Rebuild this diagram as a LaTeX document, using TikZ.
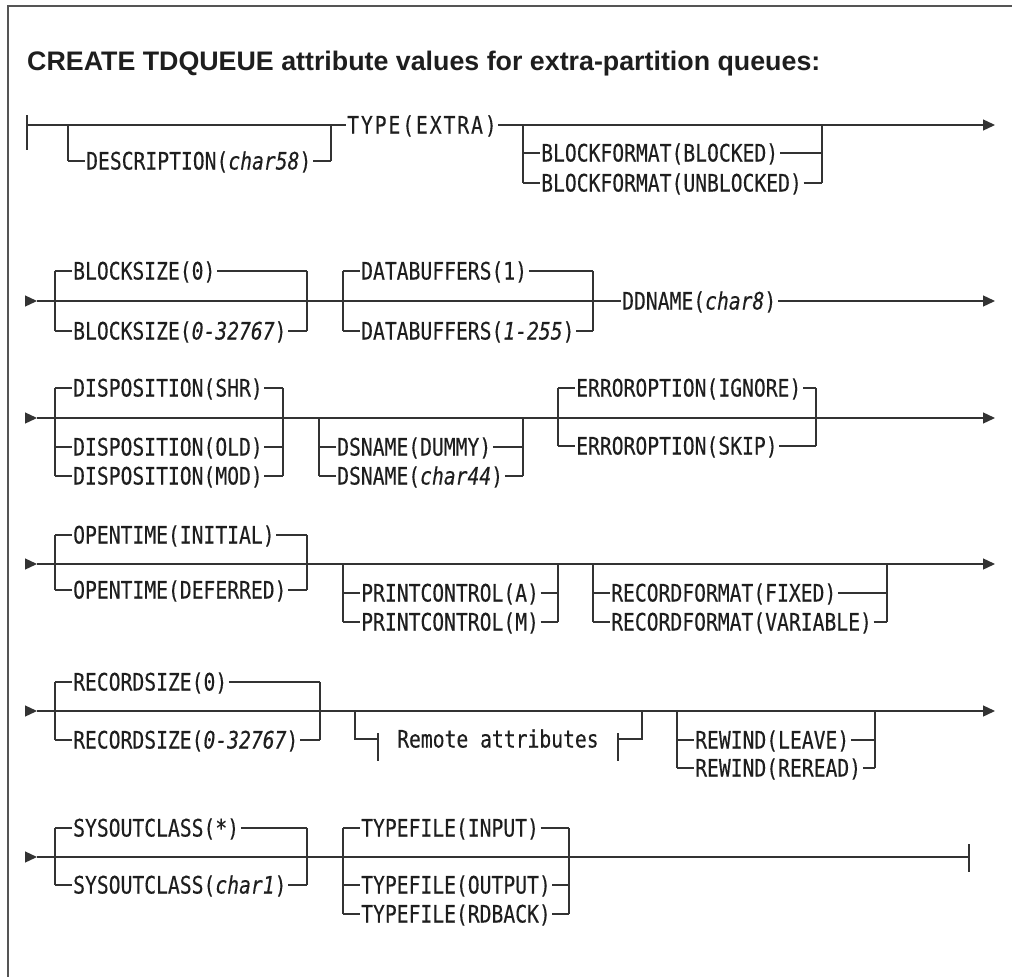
\documentclass[tikz,border=0pt]{standalone}
\usepackage{fontspec}
\newfontfamily\monof{DejaVu Sans Mono}[FakeStretch=0.82,FakeBold=0.3,ItalicFont={DejaVu Sans Mono Oblique}]
\newfontfamily\titlef{Liberation Sans}
\usetikzlibrary{arrows.meta,calc}
\definecolor{linec}{HTML}{333333}
\definecolor{txtc}{HTML}{1E1E1E}
\definecolor{framec}{HTML}{555555}
\newcommand\rrit[5]{%
  \coordinate (#1l) at (#2,#3);
  \coordinate (#1r) at (#4,#3);
  \node[lbl] (#1) at (#2+18,#3) {#5};
  \draw[rr,shorten >=1pt] (#1l) -- (#1l -| #1.west);
  \draw[rr,shorten <=1.5pt] (#1r -| #1.east) -- (#1r);
}
\newcommand\rrstart[2]{%
  \coordinate (#1a) at (25,#2);
  \coordinate (#1s) at (37,#2);
  \draw[rr,-{Triangle[length=12pt,width=11pt]}] (#1a) -- (#1s);
}
\begin{document}
\begin{tikzpicture}[x=1pt,y=-1pt,
  rr/.style={line width=1.3pt,draw=linec},
  tip/.style={-{Triangle[length=12pt,width=11pt]}},
  lbl/.style={anchor=base west,inner sep=0pt,yshift=-8.5pt,font=\monof\fontsize{24}{26}\selectfont,text=txtc},
  ttl/.style={anchor=base west,inner sep=0pt,font=\titlef\bfseries\fontsize{26.8}{30}\selectfont,text=txtc}]
\useasboundingbox (0,0) rectangle (1012,977);
% frame
\coordinate (fr1) at (8,977); \coordinate (fr2) at (8,6); \coordinate (fr3) at (1012,6);
\draw[framec,line width=1.5pt] (fr1) -- (fr2) -- (fr3);
\node[ttl] (title) at (27,70) {CREATE TDQUEUE attribute values for extra-partition queues:};

% ---------- row 1 ----------
\coordinate (r1s) at (27,125); \coordinate (r1e) at (995,125);
\coordinate (r1b1) at (27,115); \coordinate (r1b2) at (27,150);
\draw[rr] (r1b1) -- (r1b2);
\node[lbl] (type) at (347,125) {\addfontfeature{LetterSpace=8}TYPE(EXTRA)};
\draw[rr,shorten >=1pt] (r1s) -- (r1s -| type.west);
\draw[rr,tip,shorten <=1.5pt] (type.east |- r1e) -- (r1e);
\rrit{desc}{68}{161}{331}{DESCRIPTION(\textit{char58})}
\draw[rr] (descl |- r1s) -- (descl);
\draw[rr] (descr |- r1s) -- (descr);
\rrit{bfa}{523}{153}{822}{BLOCKFORMAT(BLOCKED)}
\rrit{bfb}{523}{183}{822}{BLOCKFORMAT(UNBLOCKED)}
\draw[rr] (bfbl |- r1s) -- (bfbl);
\draw[rr] (bfbr |- r1s) -- (bfbr);

% ---------- row 2 ----------
\rrstart{r2}{301}
\coordinate (r2e) at (995,301);
\node[lbl] (dd) at (622,301) {DDNAME(\textit{char8})};
\draw[rr,shorten >=1pt] (r2s) -- (r2s -| dd.west);
\draw[rr,tip,shorten <=1.5pt] (dd.east |- r2e) -- (r2e);
\rrit{bsa}{55}{271}{307}{BLOCKSIZE(0)}
\rrit{bsb}{55}{331}{307}{BLOCKSIZE(\textit{0-32767})}
\draw[rr] (bsal) -- (bsbl); \draw[rr] (bsar) -- (bsbr);
\rrit{dba}{343}{271}{593}{DATABUFFERS(1)}
\rrit{dbb}{343}{331}{593}{DATABUFFERS(\textit{1-255})}
\draw[rr] (dbal) -- (dbbl); \draw[rr] (dbar) -- (dbbr);

% ---------- row 3 ----------
\rrstart{r3}{418}
\coordinate (r3e) at (995,418);
\draw[rr,tip] (r3s) -- (r3e);
\rrit{dsa}{55}{388}{283}{DISPOSITION(SHR)}
\rrit{dsb}{55}{447}{283}{DISPOSITION(OLD)}
\rrit{dsc}{55}{476}{283}{DISPOSITION(MOD)}
\draw[rr] (dsal) -- (dscl); \draw[rr] (dsar) -- (dscr);
\rrit{dna}{319}{447}{523}{DSNAME(DUMMY)}
\rrit{dnb}{319}{476}{523}{DSNAME(\textit{char44})}
\draw[rr] (dnbl |- r3s) -- (dnbl); \draw[rr] (dnbr |- r3s) -- (dnbr);
\rrit{eoa}{558}{388}{816}{ERROROPTION(IGNORE)}
\rrit{eob}{558}{446}{816}{ERROROPTION(SKIP)}
\draw[rr] (eoal) -- (eobl); \draw[rr] (eoar) -- (eobr);

% ---------- row 4 ----------
\rrstart{r4}{564}
\coordinate (r4e) at (995,564);
\draw[rr,tip] (r4s) -- (r4e);
\rrit{ota}{55}{535}{307}{OPENTIME(INITIAL)}
\rrit{otb}{55}{590}{307}{OPENTIME(DEFERRED)}
\draw[rr] (otal) -- (otbl); \draw[rr] (otar) -- (otbr);
\rrit{pca}{343}{593}{558}{PRINTCONTROL(A)}
\rrit{pcb}{343}{622}{558}{PRINTCONTROL(M)}
\draw[rr] (pcbl |- r4s) -- (pcbl); \draw[rr] (pcbr |- r4s) -- (pcbr);
\rrit{rfa}{593}{593}{887}{RECORDFORMAT(FIXED)}
\rrit{rfb}{593}{622}{887}{RECORDFORMAT(VARIABLE)}
\draw[rr] (rfbl |- r4s) -- (rfbl); \draw[rr] (rfbr |- r4s) -- (rfbr);

% ---------- row 5 ----------
\rrstart{r5}{711}
\coordinate (r5e) at (995,711);
\draw[rr,tip] (r5s) -- (r5e);
\rrit{rsa}{55}{682}{320}{RECORDSIZE(0)}
\rrit{rsb}{55}{740}{320}{RECORDSIZE(\textit{0-32767})}
\draw[rr] (rsal) -- (rsbl); \draw[rr] (rsar) -- (rsbr);
\coordinate (rml) at (355,739); \coordinate (rmb1) at (378,739);
\coordinate (rmb2) at (618,739); \coordinate (rmr) at (642,739);
\node[lbl] (rm) at (397,739) {Remote attributes};
\draw[rr] (rml |- r5s) -- (rml) -- (rmb1);
\draw[rr] ([yshift=6pt]rmb1) -- ([yshift=-22pt]rmb1);
\draw[rr] ([yshift=6pt]rmb2) -- ([yshift=-22pt]rmb2);
\draw[rr] (rmb2) -- (rmr) -- (rmr |- r5s);
\rrit{rwa}{677}{740}{875}{REWIND(LEAVE)}
\rrit{rwb}{677}{768}{875}{REWIND(REREAD)}
\draw[rr] (rwbl |- r5s) -- (rwbl); \draw[rr] (rwbr |- r5s) -- (rwbr);

% ---------- row 6 ----------
\rrstart{r6}{857}
\coordinate (r6e) at (969,857);
\coordinate (r6b1) at (969,844); \coordinate (r6b2) at (969,872);
\draw[rr] (r6s) -- (r6e);
\draw[rr] (r6b1) -- (r6b2);
\rrit{soa}{55}{828}{307}{SYSOUTCLASS(*)}
\rrit{sob}{55}{885}{307}{SYSOUTCLASS(\textit{char1})}
\draw[rr] (soal) -- (sobl); \draw[rr] (soar) -- (sobr);
\rrit{tfa}{343}{828}{569}{TYPEFILE(INPUT)}
\rrit{tfb}{343}{885}{569}{TYPEFILE(OUTPUT)}
\rrit{tfc}{343}{914}{569}{TYPEFILE(RDBACK)}
\draw[rr] (tfal) -- (tfcl); \draw[rr] (tfar) -- (tfcr);
\end{tikzpicture}
\end{document}
